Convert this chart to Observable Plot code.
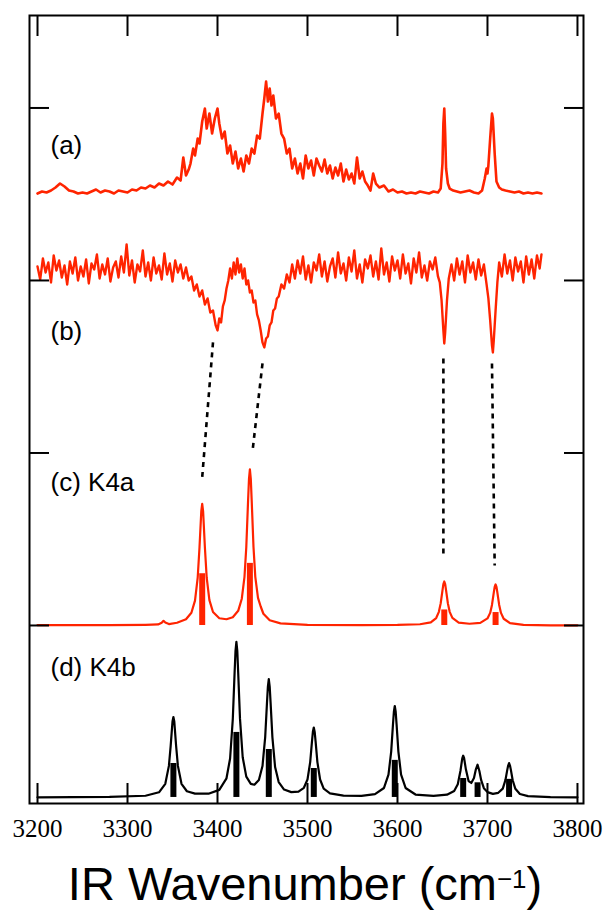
<!DOCTYPE html>
<html><head><meta charset="utf-8">
<script src="https://cdn.jsdelivr.net/npm/d3@7"></script>
<script src="https://cdn.jsdelivr.net/npm/@observablehq/plot@0.6"></script>
<style>
body{margin:0;background:#fff;}
#title{width:606px;text-align:center;font-family:"Liberation Sans",Arial,sans-serif;font-size:47px;line-height:47px;color:#000;padding-left:4px;box-sizing:border-box;white-space:nowrap;}
#title sup{font-size:0.55em;vertical-align:baseline;position:relative;top:-0.45em;}
</style></head><body>
<div id="chart"></div>
<div id="title">IR Wavenumber (cm<sup>−1</sup>)</div>
<script>
// ---------- data ----------
const xTicks = [3200, 3300, 3400, 3500, 3600, 3700, 3800];
const yTicks = [0, 1, 2, 3];
const panelLabels = ["(a)", "(b)", "(c) K4a", "(d) K4b"];

// (a) experimental spectrum: [wavenumber, signal (arb.)]
const spectrumA = [[3200,0],[3205,2],[3210,1],[3215,3],[3220,6],[3225,10],[3230,7],[3235,3],[3240,2],[3245,0],[3250,1],[3255,0],[3260,2],[3265,4],[3270,1],[3275,3],[3280,2],[3285,0],[3290,3],[3295,2],[3300,1],[3305,4],[3310,3],[3315,6],[3320,5],[3325,8],[3330,6],[3335,10],[3340,8],[3345,12],[3350,9],[3355,16],[3359,13],[3362,36],[3365,18],[3368,24],[3370,30],[3373,45],[3375,38],[3378,55],[3380,50],[3383,72],[3386,85],[3388,65],[3391,80],[3394,60],[3397,75],[3400,85],[3402,70],[3405,55],[3408,62],[3411,40],[3414,48],[3417,30],[3420,42],[3423,25],[3426,35],[3429,22],[3432,38],[3435,30],[3438,45],[3441,40],[3444,58],[3447,55],[3450,80],[3452,95],[3454,112],[3456,92],[3458,105],[3460,88],[3462,98],[3465,75],[3468,80],[3471,60],[3474,55],[3477,40],[3480,45],[3483,25],[3486,35],[3489,20],[3492,30],[3495,15],[3498,38],[3501,25],[3504,33],[3507,18],[3510,35],[3513,28],[3516,22],[3519,34],[3522,20],[3525,28],[3528,15],[3531,26],[3534,18],[3537,30],[3540,12],[3543,24],[3546,14],[3549,20],[3552,10],[3555,36],[3558,15],[3561,22],[3564,12],[3567,8],[3570,3],[3573,20],[3576,10],[3580,6],[3585,8],[3590,2],[3595,4],[3600,1],[3605,2],[3610,0],[3615,1],[3620,0],[3625,2],[3630,1],[3635,0],[3640,2],[3645,1],[3648,5],[3650,30],[3651,70],[3652,85],[3653,60],[3654,25],[3656,10],[3658,5],[3662,3],[3666,2],[3670,1],[3675,2],[3680,3],[3685,1],[3690,0],[3694,3],[3697,15],[3699,25],[3700,20],[3701,28],[3703,55],[3705,80],[3706,75],[3708,40],[3710,12],[3713,6],[3716,4],[3720,3],[3725,2],[3730,1],[3735,2],[3740,0],[3745,1],[3750,0],[3755,1],[3760,0]];

// (b) experimental difference spectrum: [wavenumber, signal (arb.)]
const spectrumB = [[3200,4],[3203,-9],[3206,12],[3209,-2],[3212,8],[3215,-12],[3218,15],[3221,0],[3224,10],[3227,-7],[3230,5],[3233,-14],[3236,9],[3239,-3],[3242,13],[3245,-10],[3248,4],[3251,-6],[3254,11],[3257,-13],[3260,7],[3263,1],[3266,16],[3269,-8],[3272,6],[3275,-4],[3278,12],[3281,-11],[3284,3],[3287,9],[3290,-7],[3293,14],[3296,-2],[3299,26],[3302,-5],[3305,10],[3308,-12],[3311,6],[3314,-1],[3317,20],[3320,-6],[3323,8],[3326,-10],[3329,13],[3332,-3],[3335,5],[3338,-9],[3341,17],[3344,-4],[3347,7],[3350,-11],[3353,10],[3356,-2],[3359,6],[3362,-8],[3365,3],[3368,-10],[3371,-6],[3374,-20],[3377,-14],[3380,-26],[3383,-20],[3386,-34],[3389,-28],[3392,-42],[3395,-40],[3398,-55],[3400,-60],[3402,-48],[3404,-52],[3406,-36],[3408,-30],[3410,-18],[3412,-10],[3414,2],[3416,-8],[3418,8],[3420,-4],[3422,12],[3424,-2],[3426,6],[3428,-8],[3430,2],[3432,-14],[3434,-10],[3436,-22],[3438,-20],[3440,-32],[3442,-30],[3444,-44],[3446,-50],[3448,-60],[3450,-72],[3452,-77],[3454,-68],[3456,-66],[3458,-55],[3460,-52],[3462,-40],[3464,-38],[3466,-28],[3468,-26],[3471,-14],[3474,-18],[3477,-4],[3480,-12],[3483,6],[3486,-8],[3489,10],[3492,-3],[3495,14],[3498,-9],[3501,5],[3504,-12],[3507,8],[3510,0],[3513,16],[3516,-6],[3519,9],[3522,-11],[3525,4],[3528,12],[3531,-7],[3534,18],[3537,-3],[3540,7],[3543,-10],[3546,13],[3549,-1],[3552,20],[3555,-8],[3558,6],[3561,-12],[3564,11],[3567,2],[3570,15],[3573,-6],[3576,9],[3579,-9],[3582,22],[3585,-4],[3588,8],[3591,-11],[3594,14],[3597,0],[3600,10],[3603,-8],[3606,16],[3609,-3],[3612,7],[3615,-13],[3618,12],[3621,-2],[3624,18],[3627,-7],[3630,5],[3633,-10],[3636,9],[3639,1],[3642,13],[3645,-6],[3647,-12],[3649,-30],[3651,-60],[3652,-73],[3653,-62],[3655,-30],[3657,-8],[3660,6],[3663,-10],[3666,12],[3669,-4],[3672,9],[3675,-12],[3678,15],[3681,-2],[3684,8],[3687,-9],[3690,11],[3693,-5],[3696,6],[3699,-14],[3701,-28],[3703,-50],[3705,-75],[3706,-82],[3707,-70],[3709,-40],[3711,-12],[3713,8],[3716,-6],[3719,16],[3722,-3],[3725,10],[3728,-10],[3731,13],[3734,-1],[3737,9],[3740,-12],[3743,14],[3746,-4],[3749,11],[3752,-8],[3755,15],[3758,2],[3760,16]];

// (c) K4a simulated spectrum: [wavenumber, intensity]
const simC = [[3200,0.002],[3280,0.002],[3320,0.004],[3334,0.006],[3338,0.016],[3340,0.027],[3342,0.017],[3346,0.008],[3355,0.016],[3365,0.036],[3371,0.074],[3375,0.144],[3378,0.277],[3380,0.452],[3382,0.663],[3383,0.705],[3384,0.663],[3386,0.452],[3388,0.277],[3391,0.147],[3395,0.078],[3402,0.042],[3410,0.036],[3417,0.048],[3423,0.085],[3427,0.155],[3430,0.282],[3432,0.455],[3434,0.725],[3435,0.85],[3436,0.905],[3437,0.85],[3438,0.725],[3440,0.455],[3442,0.282],[3445,0.16],[3448,0.11],[3451,0.068],[3458,0.03],[3470,0.012],[3500,0.004],[3560,0.002],[3600,0.003],[3625,0.007],[3637,0.018],[3643,0.043],[3646,0.079],[3648,0.128],[3650,0.204],[3651,0.24],[3652,0.255],[3653,0.24],[3654,0.204],[3656,0.128],[3658,0.079],[3661,0.044],[3668,0.017],[3680,0.01],[3692,0.015],[3700,0.041],[3703,0.073],[3705,0.119],[3707,0.19],[3708,0.224],[3709,0.238],[3710,0.224],[3711,0.19],[3713,0.119],[3715,0.073],[3718,0.039],[3725,0.014],[3740,0.004],[3770,0.001],[3800,0.001]];
const sticksC = [[3383,0.30],[3436,0.36],[3652,0.09],[3709,0.075]];

// (d) K4b simulated spectrum: [wavenumber, intensity]
const simD = [[3200,0.001],[3280,0.003],[3320,0.01],[3335,0.03],[3342,0.079],[3346,0.183],[3348,0.30],[3350,0.44],[3351,0.466],[3352,0.44],[3354,0.30],[3356,0.183],[3360,0.079],[3366,0.036],[3375,0.022],[3390,0.022],[3402,0.044],[3410,0.111],[3414,0.226],[3417,0.454],[3419,0.722],[3420,0.848],[3421,0.902],[3422,0.85],[3423,0.723],[3425,0.457],[3428,0.233],[3432,0.121],[3437,0.079],[3441,0.074],[3446,0.101],[3450,0.182],[3453,0.35],[3455,0.55],[3456,0.643],[3457,0.686],[3458,0.643],[3459,0.55],[3461,0.35],[3464,0.176],[3468,0.089],[3474,0.046],[3482,0.031],[3490,0.034],[3496,0.056],[3500,0.104],[3503,0.205],[3505,0.325],[3506,0.381],[3507,0.405],[3508,0.38],[3509,0.325],[3511,0.205],[3514,0.104],[3518,0.051],[3525,0.024],[3540,0.011],[3560,0.009],[3575,0.019],[3585,0.055],[3590,0.132],[3593,0.266],[3595,0.424],[3596,0.497],[3597,0.53],[3598,0.497],[3599,0.424],[3601,0.266],[3604,0.132],[3609,0.055],[3620,0.017],[3640,0.009],[3655,0.016],[3663,0.038],[3667,0.077],[3670,0.155],[3672,0.227],[3673,0.242],[3674,0.229],[3676,0.163],[3679,0.095],[3682,0.084],[3685,0.113],[3687,0.161],[3689,0.19],[3691,0.153],[3693,0.10],[3696,0.054],[3700,0.031],[3706,0.021],[3712,0.027],[3717,0.051],[3720,0.102],[3722,0.16],[3723,0.185],[3724,0.199],[3725,0.185],[3726,0.16],[3728,0.10],[3731,0.05],[3736,0.02],[3745,0.008],[3770,0.002],[3800,0.001]];
const sticksD = [[3351,0.197],[3421,0.377],[3457,0.278],[3507,0.168],[3597,0.215],[3673,0.11],[3689,0.085],[3724,0.105]];

// dashed correlation lines: [wn1, y1, wn2, y2]
const correlations = [[3395,1.641,3383,0.858],[3450,1.519,3439,1.014],[3651,1.548,3651,0.388],[3705,1.519,3708,0.348]];

// panel baselines (vertical stacking) and scale of experimental traces
const offsetA = 2.504, offsetB = 2.058, offsetC = 0, offsetD = -0.997;
const expScale = 172.5;

// ---------- layout / style ----------
const red = "#ff2400";
const labelFont = "Liberation Sans";
const tickFont = "Liberation Serif";
const labelPos = [[21,130],[21,316],[21,467],[21,652]];

const chart = Plot.plot({
  width: 606, height: 860,
  marginLeft: 29, marginRight: 23, marginTop: 15, marginBottom: 57,
  x: {domain: [3191.1, 3806.7]},
  y: {domain: [-1.032, 3.536]},
  style: {background: "white", overflow: "visible"},
  marks: [
    Plot.line(spectrumA, {x: d => d[0], y: d => offsetA + d[1] / expScale, stroke: red, strokeWidth: 2.6}),
    Plot.line(spectrumB, {x: d => d[0], y: d => offsetB + d[1] / expScale, stroke: red, strokeWidth: 2.4}),
    Plot.ruleX(sticksC, {x: d => d[0], y1: () => offsetC, y2: d => offsetC + d[1], stroke: red, strokeWidth: 6}),
    Plot.line(simC, {x: d => d[0], y: d => offsetC + d[1], stroke: red, strokeWidth: 2.2}),
    Plot.ruleX(sticksD, {x: d => d[0], y1: () => offsetD, y2: d => offsetD + d[1], stroke: "black", strokeWidth: 6}),
    Plot.line(simD, {x: d => d[0], y: d => offsetD + d[1], stroke: "black", strokeWidth: 2.2}),
    Plot.link(correlations, {x1: d => d[0], y1: d => d[1], x2: d => d[2], y2: d => d[3], stroke: "black", strokeWidth: 2.6, strokeDasharray: "5,5"}),
    Plot.frame({stroke: "black", strokeWidth: 2}),
    Plot.axisX({anchor: "bottom", ticks: xTicks, tickSize: -20, strokeWidth: 2, tickFormat: () => "", label: null}),
    Plot.axisX({anchor: "top", ticks: xTicks, tickSize: -20, strokeWidth: 2, tickFormat: () => "", label: null}),
    Plot.axisY({anchor: "left", ticks: yTicks, tickSize: -20, strokeWidth: 2, tickFormat: () => "", label: null}),
    Plot.axisY({anchor: "right", ticks: yTicks, tickSize: -20, strokeWidth: 2, tickFormat: () => "", label: null}),
    Plot.text(xTicks, {x: d => d, text: d => String(d), frameAnchor: "bottom", lineAnchor: "top", dy: 16, fontSize: 25, fontFamily: tickFont, fill: "black"}),
    ...panelLabels.map((t, i) => Plot.text([t], {text: d => d, frameAnchor: "top-left", dx: labelPos[i][0], dy: labelPos[i][1], textAnchor: "start", lineAnchor: "middle", fontSize: 26, fontFamily: labelFont, fill: "black"}))
  ]
});
document.getElementById("chart").appendChild(chart);
</script>
</body></html>
